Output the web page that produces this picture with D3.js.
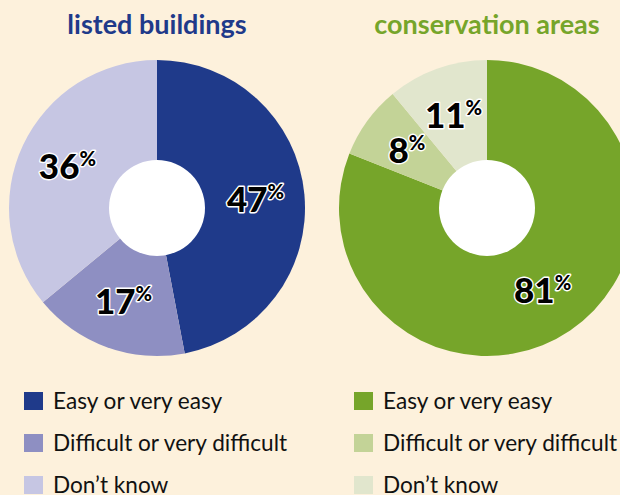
<!DOCTYPE html>
<html><head><meta charset="utf-8">
<script src="https://cdn.jsdelivr.net/npm/d3@7"></script>
<style>
html,body{margin:0;padding:0;background:#fdf1dc;}
svg{display:block;}
text{font-family:"Lato","Open Sans",sans-serif;}
</style></head><body>
<svg id="c" width="620" height="495"></svg>
<script>
const categories = ["Easy or very easy", "Difficult or very difficult", "Don\u2019t know"];
const titles = ["listed buildings", "conservation areas"];
const listedValues = [47, 17, 36];
const conservationValues = [81, 8, 11];
const listedColors = ["#1f3a8a", "#8e8fc2", "#c6c6e3"];
const conservationColors = ["#76a52a", "#c3d397", "#e1e6cd"];
const titleColors = ["#1f3a8a", "#76a52a"];

const svg = d3.select("#c");
svg.append("rect").attr("width", 620).attr("height", 495).attr("fill", "#fdf1dc");

const charts = [
  {title: titles[0], values: listedValues, colors: listedColors, tc: titleColors[0], cx: 157},
  {title: titles[1], values: conservationValues, colors: conservationColors, tc: titleColors[1], cx: 487}
];
const cy = 208, R = 148, r0 = 48, labelR = 99;

const pie = d3.pie().sort(null).value(d => d);
const arc = d3.arc().innerRadius(0).outerRadius(R);
const labelArc = d3.arc().innerRadius(labelR).outerRadius(labelR);

charts.forEach(ch => {
  svg.append("text").attr("x", ch.cx).attr("y", 34).attr("text-anchor", "middle")
    .attr("font-size", 27).attr("font-weight", 700).attr("fill", ch.tc).text(ch.title);

  const g = svg.append("g").attr("transform", `translate(${ch.cx},${cy})`);
  const arcs = pie(ch.values);
  g.selectAll("path").data(arcs).join("path")
    .attr("d", arc).attr("fill", (d, i) => ch.colors[i]);
  g.append("circle").attr("r", r0).attr("fill", "#ffffff");

  const lab = g.selectAll("text.lab").data(arcs).join("text").attr("class", "lab")
    .attr("transform", d => { const c = labelArc.centroid(d); return `translate(${c[0]},${c[1] + 13})`; })
    .attr("text-anchor", "middle")
    .attr("fill", "#000").attr("stroke", "#fff").attr("stroke-width", 2.8)
    .attr("paint-order", "stroke").attr("stroke-linejoin", "round")
    .attr("font-weight", 900);
  lab.append("tspan").attr("font-size", 35).text(d => d.data);
  lab.append("tspan").attr("font-size", 20).attr("dy", -13).text("%");

  const lx = ch.cx - 133;
  const lg = svg.append("g");
  categories.forEach((c, i) => {
    lg.append("rect").attr("x", lx).attr("y", 392 + i * 42).attr("width", 19).attr("height", 18)
      .attr("fill", ch.colors[i]);
    lg.append("text").attr("x", lx + 29).attr("y", 409 + i * 42)
      .attr("font-size", 22.6).attr("fill", "#111").text(c);
  });
});
</script></body></html>
